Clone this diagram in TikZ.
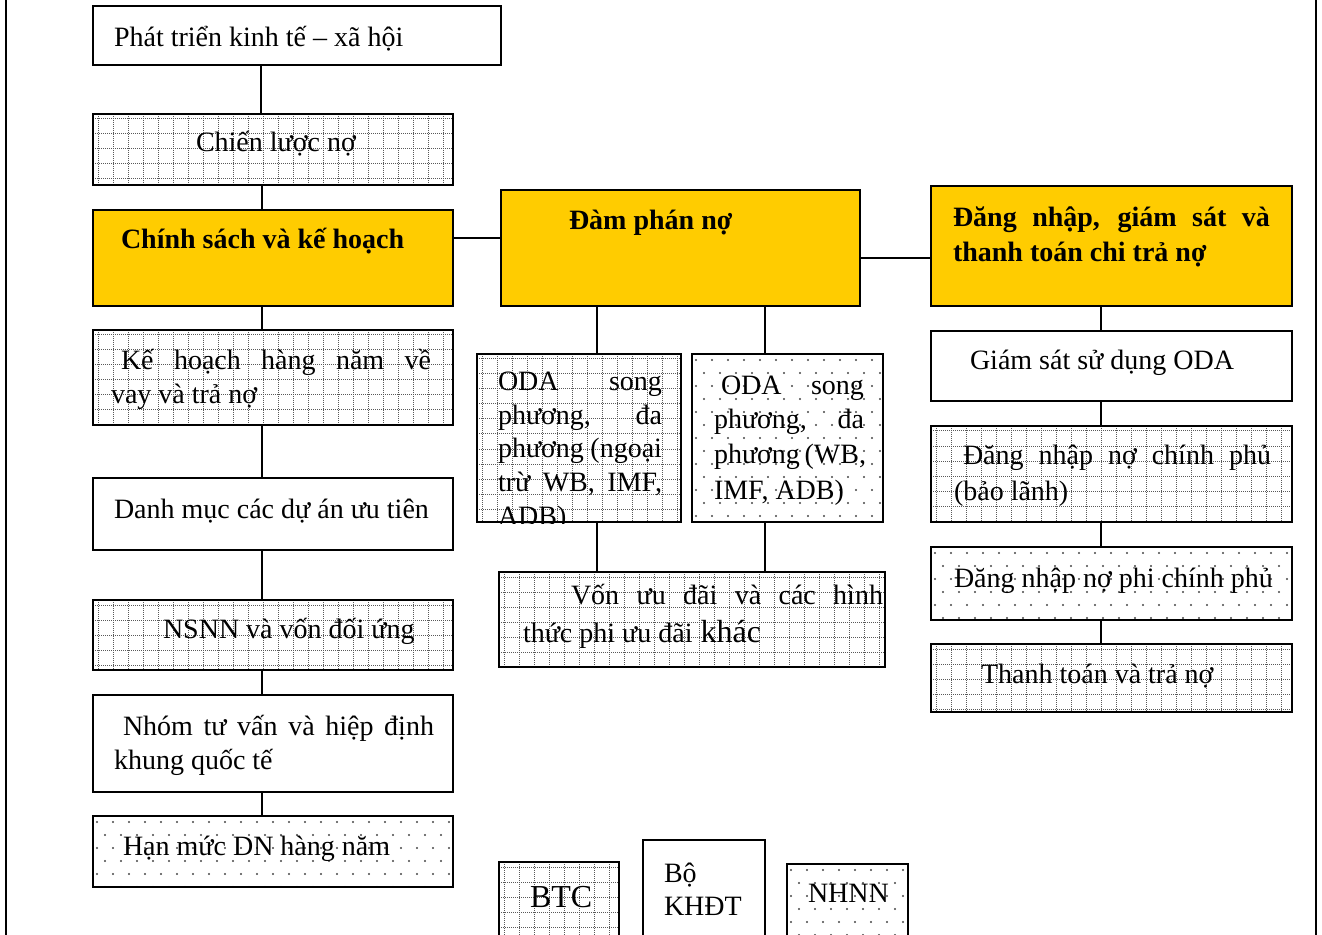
\documentclass[tikz,border=0pt]{standalone}
\usepackage{fontspec}
\setmainfont{Liberation Serif}
\usepackage{tikz}
\usetikzlibrary{positioning}
\usetikzlibrary{calc}
\usetikzlibrary{fit}
\definecolor{gold}{RGB}{255,204,0}
\definecolor{dotgray}{RGB}{70,70,70}

% dotted grid fill, corners in px
\newcommand{\gridpattern}[4]{%
  \begin{scope}
    \clip (#1,#2) rectangle (#3,#4);
    \foreach \g in {5,20,...,420} {
      \draw[gridline] (#1+\g,#2) -- (#1+\g,#4);
      \draw[gridline] (#1,#2+\g) -- (#3,#2+\g);
    }
  \end{scope}}
% staggered dot fill, corners in px
\newcommand{\dotpattern}[4]{%
  \begin{scope}
    \clip (#1,#2) rectangle (#3,#4);
    \foreach \r in {0,...,13}
      \foreach \c in {0,...,24}
        \fill[dotmark] ({#1+\c*16+4+8*mod(\r,2)}, {#2+\r*13+6}) circle (0.6pt);
  \end{scope}}

\begin{document}
\begin{tikzpicture}[x=0.5pt, y=-0.5pt, line width=1pt,
    box/.style={draw=black, inner sep=0pt, line width=1pt},
    goldbox/.style={box, fill=gold},
    gridline/.style={black!65, line width=0.5pt, dash pattern=on 0.5pt off 0.5pt},
    dotmark/.style={fill=dotgray},
    link/.style={line width=1pt},
    txt/.style={anchor=base west, inner sep=0pt, font=\fontsize{14}{17}\selectfont},
    btxt/.style={txt, font=\fontsize{14}{17}\selectfont\bfseries}]

    \useasboundingbox (0,0) rectangle (1322,935);

    % side rules
    \draw[line width=1pt] (6,-5) -- (6,940);
    \draw[line width=1pt] (1316,-5) -- (1316,940);

    % fills
    \gridpattern{93}{114}{453}{185}
    \gridpattern{93}{330}{453}{425}
    \gridpattern{93}{600}{453}{670}
    \dotpattern{93}{816}{453}{887}
    \gridpattern{477}{354}{681}{522}
    \dotpattern{692}{354}{883}{522}
    \gridpattern{499}{572}{885}{667}
    \gridpattern{931}{426}{1292}{522}
    \dotpattern{931}{547}{1292}{620}
    \gridpattern{931}{644}{1292}{712}
    \gridpattern{499}{862}{619}{950}
    \dotpattern{787}{864}{908}{950}

    % left column
    \node[box, fit={(93,6) (501,65)}] (growth) {};
    \node[box, fit={(93,114) (453,185)}] (strategy) {};
    \node[goldbox, fit={(93,210) (453,306)}] (policy) {};
    \node[box, fit={(93,330) (453,425)}] (plan) {};
    \node[box, fit={(93,478) (453,550)}] (projects) {};
    \node[box, fit={(93,600) (453,670)}] (budget) {};
    \node[box, fit={(93,695) (453,792)}] (advisory) {};
    \node[box, fit={(93,816) (453,887)}] (limit) {};

    % middle column
    \node[goldbox, fit={(501,190) (860,306)}] (nego) {};
    \node[box, fit={(477,354) (681,522)}] (odaA) {};
    \node[box, fit={(692,354) (883,522)}] (odaB) {};
    \node[box, fit={(499,572) (885,667)}] (loans) {};

    % right column
    \node[goldbox, fit={(931,186) (1292,306)}] (record) {};
    \node[box, fit={(931,331) (1292,401)}] (odause) {};
    \node[box, fit={(931,426) (1292,522)}] (govdebt) {};
    \node[box, fit={(931,547) (1292,620)}] (privdebt) {};
    \node[box, fit={(931,644) (1292,712)}] (repay) {};

    % legend
    \node[box, fit={(499,862) (619,950)}] (btc) {};
    \node[box, fit={(643,840) (765,950)}] (khdt) {};
    \node[box, fit={(787,864) (908,950)}] (nhnn) {};

    % connectors
    \coordinate (spine) at (262,0);
    \coordinate (midA) at (597,0);
    \coordinate (midB) at (765,0);
    \coordinate (spineR) at (1101,0);
    \coordinate (bar1) at (0,238);
    \coordinate (bar2) at (0,258);
    \draw[link] (growth.south -| 261,0) -- (strategy.north -| 261,0);
    \foreach \a/\b in {strategy/policy, policy/plan, plan/projects, projects/budget, budget/advisory, advisory/limit}
      \draw[link] (\a.south -| spine) -- (\b.north -| spine);
    \draw[link] (policy.east |- bar1) -- (nego.west |- bar1);
    \draw[link] (nego.east |- bar2) -- (record.west |- bar2);
    \draw[link] (nego.south -| midA) -- (odaA.north -| midA);
    \draw[link] (nego.south -| midB) -- (odaB.north -| midB);
    \draw[link] (odaA.south -| midA) -- (loans.north -| midA);
    \draw[link] (odaB.south -| midB) -- (loans.north -| midB);
    \foreach \a/\b in {record/odause, odause/govdebt, govdebt/privdebt, privdebt/repay}
      \draw[link] (\a.south -| spineR) -- (\b.north -| spineR);

    % labels, left column
    \node[txt] (growthA) at (113,47) {Phát triển kinh tế – xã hội};
    \node[txt] (strategyA) at (195,152) {Chiến lược nợ};
    \node[btxt] (policyA) at (120,249) {Chính sách và kế hoạch};
    \node[txt] (planA) at (120,370) {\makebox[155pt][s]{Kế hoạch hàng năm về}};
    \node[txt] (planB) at (110,404) {vay và trả nợ};
    \node[txt] (projectsA) at (113,518) {Danh mục các dự án ưu tiên};
    \node[txt] (budgetA) at (162,638) {NSNN và vốn đối ứng};
    \node[txt] (advisoryA) at (122,735) {\makebox[155.5pt][s]{Nhóm tư vấn và hiệp định}};
    \node[txt] (advisoryB) at (113,769) {khung quốc tế};
    \node[txt] (limitA) at (122,855) {Hạn mức DN hàng năm};

    % labels, middle column
    \node[btxt] (negoA) at (568,230) {Đàm phán nợ};
    \begin{scope}
      \clip (odaA.north west) rectangle (odaA.south east);
      \node[txt] (odaA1) at (497,391) {\makebox[82pt][s]{ODA song}};
      \node[txt] (odaA2) at (497,424) {\makebox[82pt][s]{phương, đa}};
      \node[txt] (odaA3) at (497,458) {\makebox[82pt][s]{phương (ngoại}};
      \node[txt] (odaA4) at (497,491) {\makebox[82pt][s]{trừ WB, IMF,}};
      \node[txt] (odaA5) at (497,525) {ADB)};
    \end{scope}
    \node[txt] (odaB1) at (720,394) {\makebox[71.5pt][s]{ODA song}};
    \node[txt] (odaB2) at (713,429) {\makebox[75pt][s]{phương, đa}};
    \node[txt] (odaB3) at (713,464) {\makebox[75pt][s]{phương (WB,}};
    \node[txt] (odaB4) at (713,499) {IMF, ADB)};
    \node[txt] (loansA) at (570,604) {\makebox[156pt][s]{Vốn ưu đãi và các hình}};
    \node[txt] (loansB) at (522,642) {thức phi ưu đãi\hspace{4pt}{\fontsize{16}{17}\selectfont khác}};

    % labels, right column
    \node[btxt] (recordA) at (952,227) {\makebox[158.5pt][s]{Đăng nhập, giám sát và}};
    \node[btxt] (recordB) at (952,262) {thanh toán chi trả nợ};
    \node[txt] (odauseA) at (969,370) {Giám sát sử dụng ODA};
    \node[txt] (govdebtA) at (962,465) {\makebox[154pt][s]{Đăng nhập nợ chính phủ}};
    \node[txt] (govdebtB) at (953,500) {(bảo lãnh)};
    \node[txt] (privdebtA) at (953,587) {Đăng nhập nợ phi chính phủ};
    \node[txt] (repayA) at (980,683) {Thanh toán và trả nợ};

    % legend labels
    \node[txt, font=\fontsize{16}{17}\selectfont] (btcA) at (529,907) {BTC};
    \node[txt] (khdtA) at (663,882) {Bộ};
    \node[txt] (khdtB) at (663,915) {KHĐT};
    \node[txt] (nhnnA) at (807,902) {NHNN};

\end{tikzpicture}
\end{document}
